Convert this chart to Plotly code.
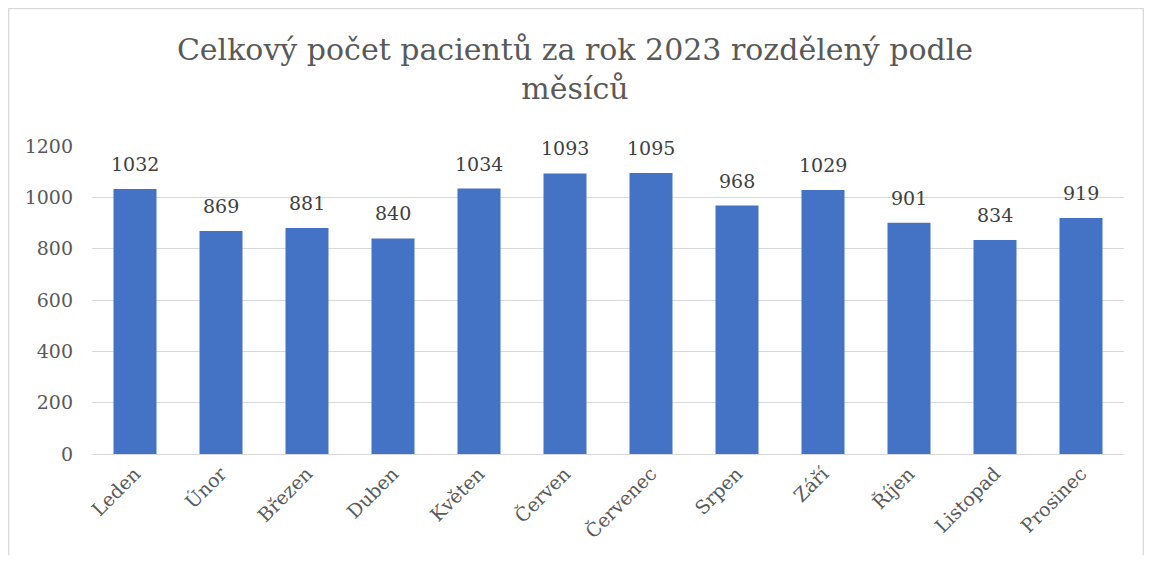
import plotly.graph_objects as go

months = ["Leden", "Únor", "Březen", "Duben", "Květen", "Červen",
          "Červenec", "Srpen", "Září", "Říjen", "Listopad", "Prosinec"]
patients = [1032, 869, 881, 840, 1034, 1093, 1095, 968, 1029, 901, 834, 919]
y_ticks = [0, 200, 400, 600, 800, 1000, 1200]

FONT = "DejaVu Serif"

# the page body adds an 8px margin, so the figure is drawn from (8, 8)
OFF = 8
W, H = 1152 - 2 * OFF, 563 - 2 * OFF
L, T = 92 - OFF, 146 - OFF
R = (OFF + W) - 1124
B = (OFF + H) - 454

fig = go.Figure(go.Bar(
    x=months, y=patients,
    marker=dict(color="#4472C4", line=dict(width=0)),
    hoverinfo="x+y",
))

for m, v in zip(months, patients):
    fig.add_annotation(
        x=m, y=v, xref="x", yref="y", text=str(v), showarrow=False,
        yanchor="bottom", yshift=12,
        font=dict(family=FONT, size=19, color="#404040"),
    )

fig.update_layout(
    width=W, height=H,
    margin=dict(l=L, r=R, t=T, b=B, autoexpand=False),
    paper_bgcolor="white", plot_bgcolor="white",
    font=dict(family=FONT, color="#595959"),
    bargap=0.5,
    showlegend=False,
    title=dict(
        text="Celkový počet pacientů za rok 2023 rozdělený podle<br>měsíců",
        font=dict(family=FONT, size=30, color="#595959"),
        x=(575 - OFF) / W, xanchor="center", xref="container",
        y=1 - 52 / H, yanchor="top", yref="container",
    ),
    xaxis=dict(
        tickangle=-45,
        tickfont=dict(family=FONT, size=19, color="#595959"),
        showgrid=False, showline=False, ticks="",
        ticklabelstandoff=4,
    ),
    yaxis=dict(
        range=[0, 1200],
        tickvals=y_ticks,
        tickfont=dict(family=FONT, size=19, color="#595959"),
        showgrid=True, gridcolor="#D9D9D9", gridwidth=1.3,
        zeroline=True, zerolinecolor="#D9D9D9", zerolinewidth=1.3,
        showline=False, ticks="", ticklen=0,
        ticklabelstandoff=18,
    ),
)

pw, ph = W - L - R, H - T - B
fig.add_shape(
    type="rect", xref="paper", yref="paper",
    x0=(0.7 - L) / pw, x1=(W - 0.7 - L) / pw,
    y0=-(B + 20) / ph, y1=(H - B - 0.7) / ph,
    line=dict(color="#D9D9D9", width=1.3), fillcolor="rgba(0,0,0,0)",
    layer="below",
)

fig.write_html("out.html")
